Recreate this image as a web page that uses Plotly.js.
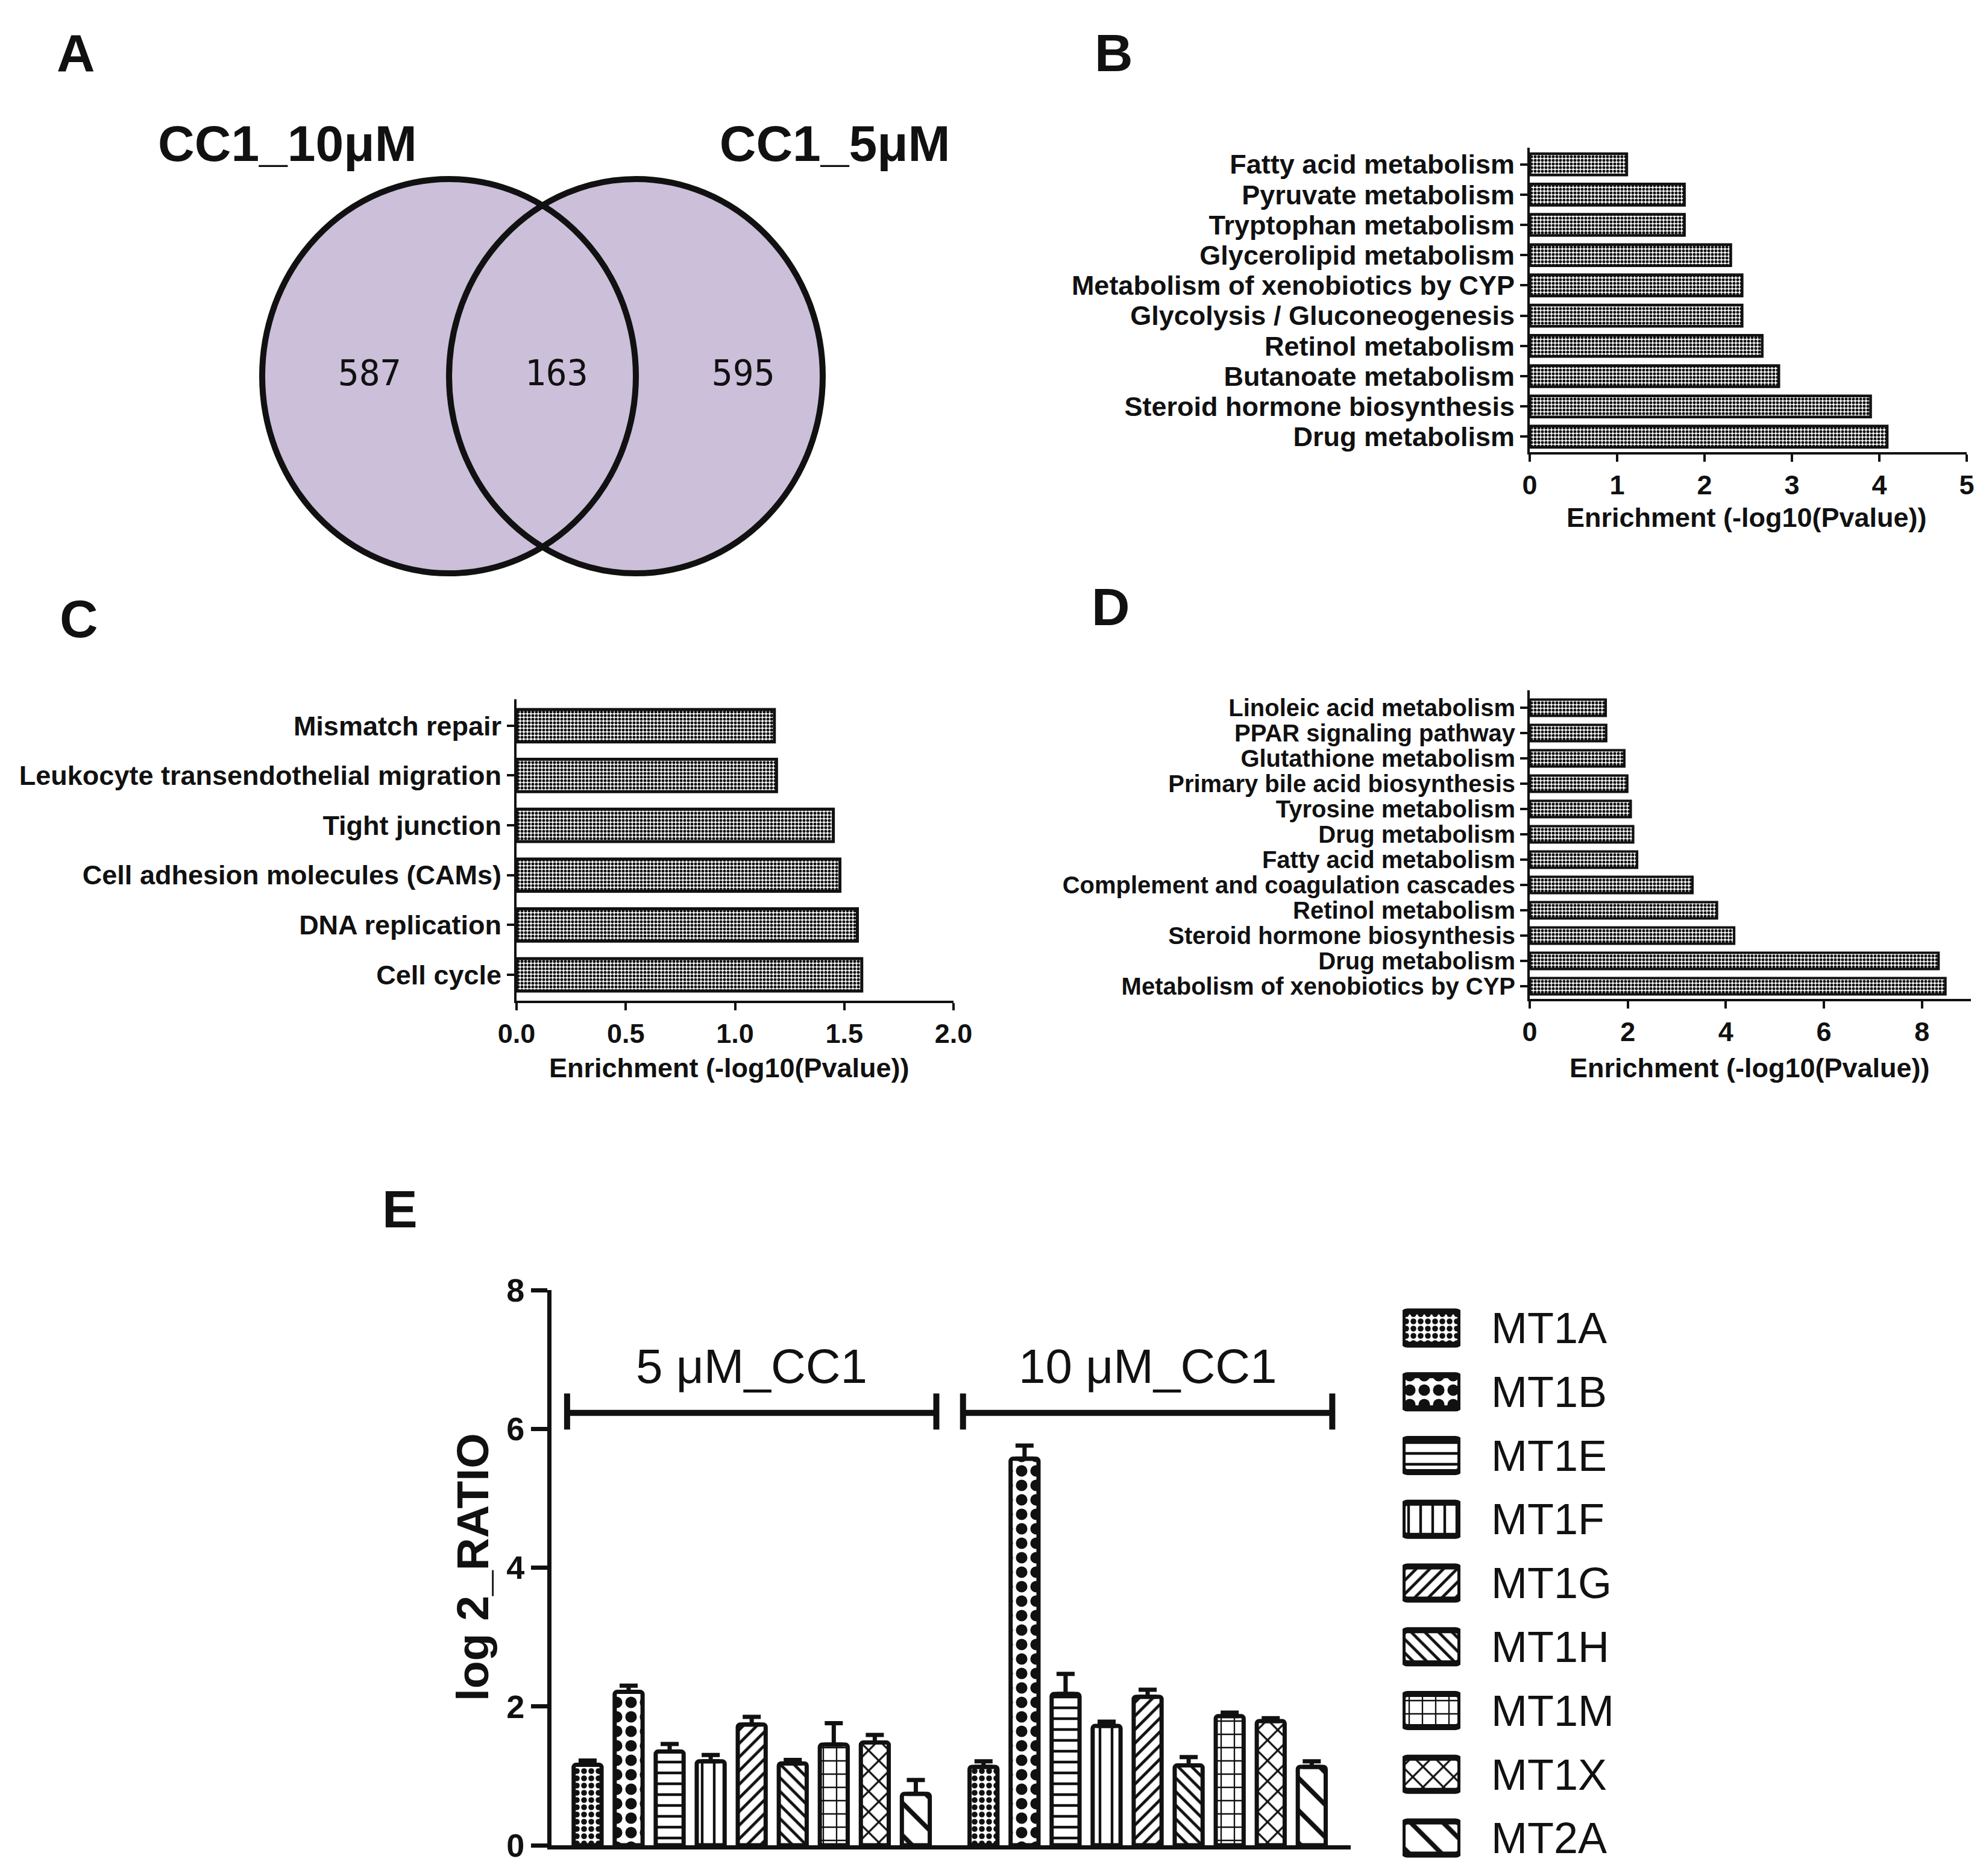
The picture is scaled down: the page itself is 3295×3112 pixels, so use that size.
<!DOCTYPE html>
<html><head><meta charset="utf-8">
<script src="https://cdn.plot.ly/plotly-3.0.1.min.js"></script>
<style>html,body{margin:0;padding:0;background:#fff}</style>
</head><body><div id="chart" style="width:3295px;height:3112px"></div>
<script>
const W=3295,H=3112;
// ---- Panel A (Venn) ----
const vennSets=['CC1_10μM','CC1_5μM'];
const vennCounts=[587,163,595];
// ---- Panel B ----
const bTerms=['Drug metabolism','Steroid hormone biosynthesis','Butanoate metabolism','Retinol metabolism','Glycolysis / Gluconeogenesis','Metabolism of xenobiotics by CYP','Glycerolipid metabolism','Tryptophan metabolism','Pyruvate metabolism','Fatty acid metabolism'];
const bValues=[4.09,3.90,2.85,2.66,2.43,2.43,2.30,1.77,1.77,1.11];
// ---- Panel C ----
const cTerms=['Cell cycle','DNA replication','Cell adhesion molecules (CAMs)','Tight junction','Leukocyte transendothelial migration','Mismatch repair'];
const cValues=[1.58,1.56,1.48,1.45,1.19,1.18];
// ---- Panel D ----
const dTerms=['Metabolism of xenobiotics by CYP','Drug metabolism','Steroid hormone biosynthesis','Retinol metabolism','Complement and coagulation cascades','Fatty acid metabolism','Drug metabolism','Tyrosine metabolism','Primary bile acid biosynthesis','Glutathione metabolism','PPAR signaling pathway','Linoleic acid metabolism'];
const dValues=[8.48,8.34,4.17,3.82,3.32,2.19,2.11,2.06,1.99,1.93,1.56,1.55];
// ---- Panel E ----
const genes=['MT1A','MT1B','MT1E','MT1F','MT1G','MT1H','MT1M','MT1X','MT2A'];
const groups=['5 μM_CC1','10 μM_CC1'];
const ratio5=[1.16,2.21,1.35,1.21,1.74,1.18,1.45,1.48,0.74];
const err5=[0.06,0.09,0.11,0.09,0.11,0.05,0.31,0.11,0.20];
const ratio10=[1.13,5.57,2.18,1.72,2.14,1.15,1.86,1.79,1.13];
const err10=[0.08,0.19,0.29,0.06,0.10,0.12,0.05,0.04,0.08];
const enrichTitle='Enrichment (-log10(Pvalue))';

// ---- styles ----
const INK='#111111';
const FONT='Liberation Sans, Arial, sans-serif';
const ePatterns=[
 {shape:'.',size:12,solidity:0.5},
 {shape:'.',size:24,solidity:0.5},
 {shape:'-',size:18,solidity:0.25},
 {shape:'|',size:20,solidity:0.22},
 {shape:'/',size:16,solidity:0.3},
 {shape:'\\',size:16,solidity:0.3},
 {shape:'+',size:22,solidity:0.2},
 {shape:'x',size:24,solidity:0.25},
 {shape:'\\',size:38,solidity:0.2}
];
const groupGap=9.65;
const px=(a,b)=>[a/W,b/W];
const py=(t,b)=>[1-b/H,1-t/H];
const idx=a=>a.map((_,i)=>i);

const hbar=(vals,xa,ya,w,lw)=>({type:'bar',orientation:'h',x:vals,y:idx(vals),xaxis:xa,yaxis:ya,width:w,
  marker:{color:'#fff',line:{color:INK,width:lw},pattern:{shape:'.',size:6,solidity:0.55,fgcolor:INK,bgcolor:'#fff',fillmode:'replace'}},
  hoverinfo:'skip'});

const traces=[];
traces.push(hbar(bValues,'x','y',0.7,4.5));
traces.push(hbar(cValues,'x2','y2',0.65,5));
traces.push(hbar(dValues,'x3','y3',0.64,4));

// Panel E bars
genes.forEach((g,i)=>{
  const p=ePatterns[i];
  traces.push({type:'bar',name:g,x:[i,groupGap+i],y:[ratio5[i],ratio10[i]],xaxis:'x4',yaxis:'y4',width:0.68,
    marker:{color:'#fff',cornerradius:4,line:{color:INK,width:7},pattern:{shape:p.shape,size:p.size,solidity:p.solidity,fgcolor:INK,bgcolor:'#fff',fillmode:'replace'}},
    error_y:{type:'data',symmetric:false,array:[err5[i],err10[i]],arrayminus:[0,0],color:INK,thickness:7,width:15},
    hoverinfo:'skip'});
});
// group brackets
const bracketY=6.23, capLo=5.99, capHi=6.51;
const annotations=[];
groups.forEach((gname,gi)=>{
  const x0=gi*groupGap-0.5, x1=gi*groupGap+genes.length-1+0.5;
  traces.push({type:'scatter',mode:'lines',xaxis:'x4',yaxis:'y4',
    x:[x0,x0,null,x0,x1,null,x1,x1],y:[capLo,capHi,null,bracketY,bracketY,null,capLo,capHi],
    line:{color:INK,width:10},hoverinfo:'skip'});
  annotations.push({xref:'x4',yref:'y4',x:(x0+x1)/2,y:6.9,text:gname,showarrow:false,
    font:{family:FONT,size:80,color:INK}});
});
// legend swatches
traces.push({type:'bar',orientation:'h',x:genes.map(()=>1),y:idx(genes),base:0,xaxis:'x5',yaxis:'y5',width:0.52,
  marker:{color:'#fff',cornerradius:8,line:{color:INK,width:10},
    pattern:{shape:ePatterns.map(p=>p.shape),size:ePatterns.map(p=>p.size),solidity:ePatterns.map(p=>p.solidity),fgcolor:INK,bgcolor:'#fff',fillmode:'replace'}},
  hoverinfo:'skip'});

// Venn
const cx=[0,1], rx=1.0, ry=1.055, labOff=0.075;
const vennX=[(cx[0]-rx+cx[1]-rx)/2+labOff,(cx[0]+cx[1])/2+labOff,(cx[0]+rx+cx[1]+rx)/2+labOff];
traces.push({type:'scatter',mode:'text',xaxis:'x6',yaxis:'y6',x:vennX,y:[0,0,0],text:vennCounts.map(String),cliponaxis:false,
  textfont:{family:'DejaVu Sans Mono, monospace',size:58,color:INK},hoverinfo:'skip'});
traces.push({type:'scatter',mode:'text',xaxis:'x6',yaxis:'y6',x:[cx[0]-0.865,cx[1]+1.065],y:[1.22,1.22],text:vennSets,cliponaxis:false,
  textfont:{family:FONT,size:84,color:INK,weight:'bold'},hoverinfo:'skip'});
const shapes=[];
cx.forEach(c=>shapes.push({type:'circle',layer:'below',xref:'x6',yref:'y6',x0:c-rx,x1:c+rx,y0:-ry,y1:ry,fillcolor:'#CBBFD9',line:{width:0}}));
cx.forEach(c=>shapes.push({type:'circle',layer:'below',xref:'x6',yref:'y6',x0:c-rx,x1:c+rx,y0:-ry,y1:ry,fillcolor:'rgba(0,0,0,0)',line:{width:10,color:INK}}));

// panel letters
[['A',126,88],['B',1848,88],['C',131,1026],['D',1843,1006],['E',663,2005]].forEach(([t,x,y])=>{
  annotations.push({xref:'paper',yref:'paper',x:x/W,y:1-y/H,text:t,showarrow:false,xanchor:'center',yanchor:'middle',
    font:{family:FONT,size:88,color:INK,weight:'bold'}});
});
// enrichment titles
[[2898,858],[1210,1771],[2903,1771]].forEach(([x,y])=>{
  annotations.push({xref:'paper',yref:'paper',x:x/W,y:1-y/H,text:enrichTitle,showarrow:false,xanchor:'center',yanchor:'middle',
    font:{family:FONT,size:45,color:INK,weight:'bold'}});
});
annotations.push({xref:'paper',yref:'paper',x:784/W,y:1-2600/H,text:'log 2_RATIO',textangle:-90,showarrow:false,xanchor:'center',yanchor:'middle',
  font:{family:FONT,size:75,color:INK,weight:'bold'}});

const tickF={family:FONT,size:45,color:INK,weight:'bold'};
const xEnrich=(dom,range,extra)=>Object.assign({domain:dom,range:range,showline:true,linewidth:4,linecolor:INK,ticks:'outside',ticklen:12,tickwidth:4,tickcolor:INK,
  showgrid:false,zeroline:false,tickfont:tickF,fixedrange:true},extra);
const yTerms=(dom,range,terms,anchor,fs)=>({domain:dom,range:range,anchor:anchor,tickvals:idx(terms),ticktext:terms,showline:true,linewidth:4,linecolor:INK,
  ticks:'outside',ticklen:12,tickwidth:4,tickcolor:INK,showgrid:false,zeroline:false,tickfont:Object.assign({},tickF,{size:fs}),fixedrange:true});

const layout={
  width:W,height:H,margin:{l:0,r:0,t:0,b:0},paper_bgcolor:'#fff',plot_bgcolor:'rgba(0,0,0,0)',
  showlegend:false,barmode:'overlay',
  xaxis:xEnrich(px(2538,3263),[0,5],{dtick:1,anchor:'y'}),
  yaxis:yTerms(py(245,750),[-0.51,9.55],bTerms,'x',45),
  xaxis2:xEnrich(px(857,1582),[0,2],{dtick:0.5,tickformat:'.1f',anchor:'y2'}),
  yaxis2:yTerms(py(1160,1660),[-0.52,5.53],cTerms,'x2',45),
  xaxis3:xEnrich(px(2538,3270),[0,9],{tickvals:[0,2,4,6,8],anchor:'y3'}),
  yaxis3:yTerms(py(1145,1657),[-0.5,11.69],dTerms,'x3',40),
  xaxis4:{domain:px(915,2241),range:[-0.88,18.6],anchor:'y4',showline:true,linewidth:7,linecolor:INK,ticks:'',showticklabels:false,showgrid:false,zeroline:false,fixedrange:true},
  yaxis4:{domain:py(2140,3061),range:[0,8],anchor:'x4',tickvals:[0,2,4,6,8],showline:true,linewidth:7,linecolor:INK,ticks:'outside',ticklen:27,tickwidth:7,tickcolor:INK,
    showgrid:false,zeroline:false,tickfont:{family:FONT,size:54,color:INK,weight:'bold'},fixedrange:true},
  xaxis5:{domain:px(2327,2423),range:[0,1],anchor:'y5',visible:false,fixedrange:true},
  yaxis5:{domain:py(2150,3102),range:[8.5,-0.5],anchor:'x5',side:'right',tickvals:idx(genes),ticktext:genes,ticks:'',showline:false,showgrid:false,zeroline:false,
    ticklabelstandoff:50,tickfont:{family:FONT,size:72,color:INK},fixedrange:true},
  xaxis6:{domain:px(280,1520),range:[-1.5,2.5],anchor:'y6',visible:false,fixedrange:true},
  yaxis6:{domain:py(159,1089),range:[-1.5,1.5],anchor:'x6',visible:false,fixedrange:true},
  shapes:shapes,annotations:annotations
};
Plotly.newPlot('chart',traces,layout,{displayModeBar:false,staticPlot:true});
</script></body></html>
